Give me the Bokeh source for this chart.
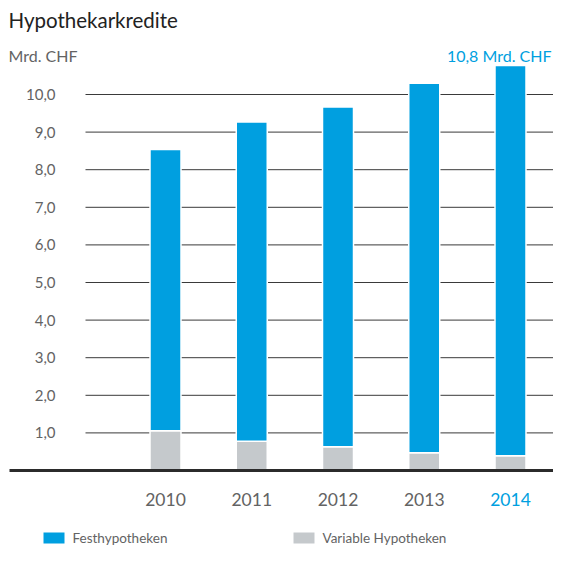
from bokeh.plotting import figure
from bokeh.models import Range1d, ColumnDataSource
from bokeh.core.properties import value
from bokeh.embed import file_html
from bokeh.resources import INLINE

# ---- data ----
years = ["2010", "2011", "2012", "2013", "2014"]
variable = [1.06, 0.78, 0.63, 0.47, 0.39]          # Variable Hypotheken (Mrd. CHF)
fest = [7.48, 8.49, 9.04, 9.83, 10.38]             # Festhypotheken (Mrd. CHF)
tick_values = [1.0, 2.0, 3.0, 4.0, 5.0, 6.0, 7.0, 8.0, 9.0, 10.0]
tick_labels = ["1,0", "2,0", "3,0", "4,0", "5,0", "6,0", "7,0", "8,0", "9,0", "10,0"]
series_names = ["Festhypotheken", "Variable Hypotheken"]
title_text = "Hypothekarkredite"
unit_text = "Mrd. CHF"
total_label = "10,8 Mrd. CHF"

BLUE = "#009FE0"
GREY = "#C5C9CC"
TXT = "#636363"
FONT = "Lato"

W, H = 553, 547
PX_X = 86.25          # px per category
PX_Y = 37.6           # px per unit
X0_PX = 165           # px of first category centre
Y0_PX = 470           # px (from top) of zero line

x_start = -X0_PX / PX_X
x_end = x_start + W / PX_X
y_end = Y0_PX / PX_Y
y_start = y_end - H / PX_Y

def dx(px):  # screen px from left -> data x
    return x_start + px / PX_X

def dy(px):  # screen px from top -> data y
    return y_end - px / PX_Y

p = figure(width=W, height=H, x_range=Range1d(x_start, x_end), y_range=Range1d(y_start, y_end),
           toolbar_location=None, output_backend="svg", min_border=0)
p.axis.visible = False
p.grid.visible = False
p.outline_line_color = None
p.background_fill_color = "white"

# grid lines
p.segment(x0=[dx(85)] * len(tick_values), x1=[x_end] * len(tick_values),
          y0=tick_values, y1=tick_values, line_color="#3a3a3a", line_width=1)

# stacked bars
xs = list(range(len(years)))
src = ColumnDataSource(dict(x=xs, variable=variable, fest=fest))
p.vbar_stack(["variable", "fest"], x="x", width=31 / PX_X, source=src,
             color=[GREY, BLUE], line_color="white", line_width=1.5)

# baseline
p.segment(x0=[dx(9)], x1=[x_end], y0=[0], y1=[0], line_color="#2b2b2b", line_width=3)

# y tick labels
p.text(x=[dx(55)] * len(tick_values), y=tick_values, text=tick_labels,
       text_align="right", text_baseline="middle", text_font=value(FONT),
       text_font_size="15px", text_color=TXT)

# year labels
p.text(x=xs[:-1], y=[dy(499)] * (len(years) - 1), text=years[:-1], text_align="center",
       text_baseline="middle", text_font=value(FONT), text_font_size="17.5px", text_color=TXT)
p.text(x=[xs[-1]], y=[dy(499)], text=[years[-1]], text_align="center",
       text_baseline="middle", text_font=value(FONT), text_font_size="17.5px",
       text_color=BLUE)

# title & unit
p.text(x=[dx(8)], y=[dy(19)], text=[title_text], text_align="left", text_baseline="middle",
       text_font=value(FONT), text_font_size="20.5px", text_color="#222222")
p.text(x=[dx(8)], y=[dy(55)], text=[unit_text], text_align="left", text_baseline="middle",
       text_font=value(FONT), text_font_size="16px", text_color=TXT)
p.text(x=[dx(551)], y=[dy(55)], text=[total_label], text_align="right", text_baseline="middle",
       text_font=value(FONT), text_font_size="16px", text_color=BLUE)

# legend
sw_left = [43, 293]
sw_cols = [BLUE, GREY]
for left, col, name in zip(sw_left, sw_cols, series_names):
    p.quad(left=[dx(left)], right=[dx(left + 21)], top=[dy(532)], bottom=[dy(543)],
           fill_color=col, line_color=None)
    p.text(x=[dx(left + 29)], y=[dy(537)], text=[name], text_align="left", text_baseline="middle",
           text_font=value(FONT), text_font_size="13.5px", text_color=TXT)

open("out.html", "w").write(file_html(p, INLINE))
